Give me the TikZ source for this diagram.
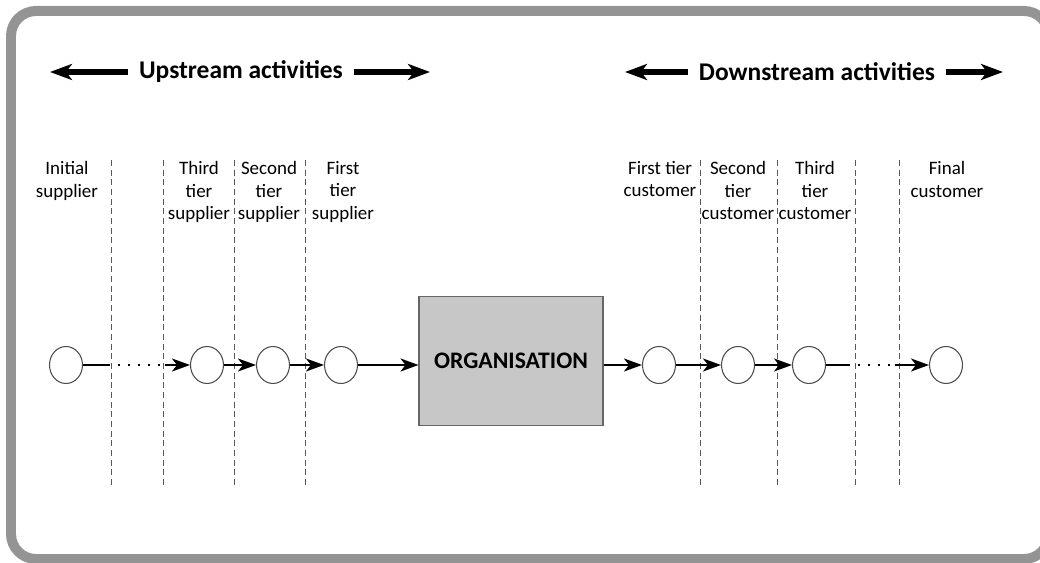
\documentclass[tikz,border=0pt]{standalone}
\usepackage{fontspec}
\setmainfont{Carlito}
\usetikzlibrary{arrows.meta,shapes.geometric}

\begin{document}
\begin{tikzpicture}[x=0.02cm,y=-0.02cm,
    tier/.style={draw=black!70,line width=0.6pt,ellipse,minimum width=0.66cm,minimum height=0.74cm,inner sep=0pt},
    tierlabel/.style={anchor=north,align=center,inner sep=0pt,font=\fontsize{10.8}{12.8}\selectfont},
    divider/.style={black!65,line width=0.5pt,dash pattern=on 3.5pt off 2pt},
    flow/.style={line width=1.1pt,-{Stealth[length=0.36cm,width=0.26cm,inset=0.1cm]}},
    bigarrow/.style={line width=0.12cm,-{Stealth[length=0.44cm,width=0.32cm,inset=0.12cm]}},
    heading/.style={font=\bfseries\fontsize{14.5}{16}\selectfont,inner xsep=0.22cm}]
	\useasboundingbox (0,0) rectangle (1040,563);
	\draw[black!42,line width=0.2cm,rounded corners=0.5cm] (11,11) rectangle (1049,559);

	% headings
	\node[heading] (up) at (241,72) {Upstream activities};
	\node[heading] (down) at (817,72) {Downstream activities};
	\coordinate (upL) at (50,72);
	\coordinate (upR) at (430,72);
	\coordinate (downL) at (625,72);
	\coordinate (downR) at (1003,72);
	\draw[bigarrow] (up.west) -- (upL);
	\draw[bigarrow] (up.east) -- (upR);
	\draw[bigarrow] (down.west) -- (downL);
	\draw[bigarrow] (down.east) -- (downR);

	% tier boundaries
	\foreach \x in {111,163,234,305,700,777,855,899}
		\draw[divider] (\x,160) -- (\x,488);

	% labels
	\node[tierlabel] (lInit) at (67,161) {Initial\\supplier};
	\node[tierlabel] (lS3) at (199,161) {Third\\tier\\supplier};
	\node[tierlabel] (lS2) at (269,161) {Second\\tier\\supplier};
	\node[tierlabel] (lS1) at (343,161) {First\\tier\\supplier};
	\node[tierlabel] (lC1) at (660,161) {First tier\\customer};
	\node[tierlabel] (lC2) at (738,161) {Second\\tier\\customer};
	\node[tierlabel] (lC3) at (815,161) {Third\\tier\\customer};
	\node[tierlabel] (lFin) at (947,161) {Final\\customer};

	% chain
	\node[tier] (init) at (66,365) {};
	\node[tier] (s3) at (207,365) {};
	\node[tier] (s2) at (273,365) {};
	\node[tier] (s1) at (341,365) {};
	\node[draw=black!60,fill=black!22,line width=0.6pt,minimum width=3.68cm,minimum height=2.58cm,
		font=\bfseries\fontsize{13.5}{15}\selectfont] (org) at (511,361) {ORGANISATION};
	\node[tier] (c1) at (659,365) {};
	\node[tier] (c2) at (738,365) {};
	\node[tier] (c3) at (809,365) {};
	\node[tier] (fin) at (946,365) {};

	\coordinate (gapA) at (108,365);
	\coordinate (gapB) at (165,365);
	\coordinate (gapC) at (848,365);
	\coordinate (gapD) at (895,365);
	\draw[line width=1.1pt] (init) -- (gapA);
	\draw[line width=1.1pt,dash pattern=on 1.2pt off 4.5pt] (gapA) -- (gapB);
	\draw[flow] (gapB) -- (s3);
	\draw[flow] (s3) -- (s2);
	\draw[flow] (s2) -- (s1);
	\draw[flow] (s1) -- (s1 -| org.west);
	\draw[flow] (org.east |- c1) -- (c1);
	\draw[flow] (c1) -- (c2);
	\draw[flow] (c2) -- (c3);
	\draw[line width=1.1pt] (c3) -- (gapC);
	\draw[line width=1.1pt,dash pattern=on 1.2pt off 4.5pt] (gapC) -- (gapD);
	\draw[flow] (gapD) -- (fin);
\end{tikzpicture}
\end{document}
